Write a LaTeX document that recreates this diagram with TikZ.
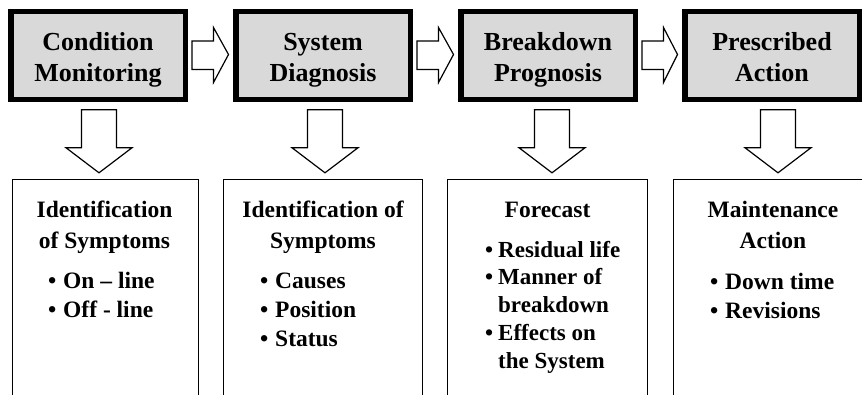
\documentclass[tikz,border=0pt]{standalone}
\usepackage{fontspec}
\setmainfont{Liberation Serif}
\usetikzlibrary{calc}
\definecolor{stagegray}{RGB}{217,217,217}
% bullet with a fixed-width column so wrapped lines hang under the text
\newcommand\bul[1][15pt]{\makebox[#1][l]{\textbullet}}
\newcommand\hang[1][15pt]{\hspace*{#1}}

\begin{document}
\begin{tikzpicture}[x=1pt,y=-1pt,
  stagebox/.style={draw=black, line width=5.5pt, fill=stagegray,
    minimum width=174.5pt, minimum height=88pt, inner sep=0pt},
  stagetext/.style={anchor=base, inner sep=0pt,
    font=\fontsize{26}{31.5}\selectfont\bfseries},
  panel/.style={inner sep=0pt, minimum height=240pt},
  panelline/.style={draw=black, line width=1.5pt},
  blockarrow/.style={draw=black, line width=1.2pt, fill=white, line join=miter},
  heading/.style={anchor=base, inner sep=0pt,
    font=\fontsize{23.5}{31}\selectfont\bfseries},
  items/.style={anchor=base west, inner sep=0pt,
    font=\fontsize{23.5}{29}\selectfont\bfseries},
  itemstight/.style={items, font=\fontsize{23}{27.8}\selectfont\bfseries}
]
\useasboundingbox (0,0) rectangle (862,394);

% ---- stage boxes ----
\node[stagebox] (b1) at (98,55.5) {};
\node[stagebox] (b2) at (323,55.5) {};
\node[stagebox] (b3) at (548,55.5) {};
\node[stagebox] (b4) at (772,55.5) {};

\node[stagetext] (b1t) at ($(b1.center)+(0,-5.5)$)
  {\begin{tabular}[t]{@{}c@{}}Condition\\Monitoring\end{tabular}};
\node[stagetext] (b2t) at ($(b2.center)+(0,-5.5)$)
  {\begin{tabular}[t]{@{}c@{}}System\\Diagnosis\end{tabular}};
\node[stagetext] (b3t) at ($(b3.center)+(0,-5.5)$)
  {\begin{tabular}[t]{@{}c@{}}Breakdown\\Prognosis\end{tabular}};
\node[stagetext] (b4t) at ($(b4.center)+(0,-5.5)$)
  {\begin{tabular}[t]{@{}c@{}}Prescribed\\Action\end{tabular}};

% ---- block arrows between stages ----
\foreach \a/\b in {b1/b2, b2/b3, b3/b4}{
  \draw[blockarrow]
    ($(\a.east)+(4,-14.5)$) -- ($(\a.east)+(25.5,-14.5)$)
    -- ($(\a.east)+(25.5,-28)$) -- ($(\b.west)+(-4.5,-1)$)
    -- ($(\a.east)+(25.5,27)$) -- ($(\a.east)+(25.5,14)$)
    -- ($(\a.east)+(4,14)$) -- cycle;
}

% ---- result panels (open at the bottom) ----
\node[panel, minimum width=186pt] (p1) at (105.5,299.5) {};
\node[panel, minimum width=199pt] (p2) at (323,299.5) {};
\node[panel, minimum width=200pt] (p3) at (547.5,299.5) {};
\node[panel, minimum width=200pt] (p4) at (773.5,299.5) {};
\foreach \p in {p1,p2,p3,p4}{
  \draw[panelline] (\p.south west) -- (\p.north west) -- (\p.north east) -- (\p.south east);
}

% ---- block arrows from stages down to panels ----
\foreach \s/\p/\dx in {b1/p1/1, b2/p2/2, b3/p3/4, b4/p4/6}{
  \coordinate (tipx) at ($(\s.south)+(\dx,0)$);
  \coordinate (tipy) at ($(\p.north)+(0,-6.5)$);
  \draw[blockarrow]
    ($(\s.south)+(\dx-17.5,7.5)$) -- ($(\s.south)+(\dx+17.5,7.5)$)
    -- ($(\s.south)+(\dx+17.5,45.5)$) -- ($(\s.south)+(\dx+33,45.5)$)
    -- (tipx |- tipy)
    -- ($(\s.south)+(\dx-33,45.5)$) -- ($(\s.south)+(\dx-17.5,45.5)$) -- cycle;
}

% ---- panel texts ----
\node[heading] (h1) at (104.5,217)
  {\begin{tabular}[t]{@{}c@{}}Identification\\of Symptoms\end{tabular}};
\node[items] (i1) at (48,288)
  {\begin{tabular}[t]{@{}l@{}}\bul On -- line\\\bul Off - line\end{tabular}};

\node[heading] (h2) at (323,217)
  {\begin{tabular}[t]{@{}c@{}}Identification of\\Symptoms\end{tabular}};
\node[items] (i2) at (260,288)
  {\begin{tabular}[t]{@{}l@{}}\bul Causes\\\bul Position\\\bul Status\end{tabular}};

\node[heading] (h3) at (547.5,217) {Forecast};
\node[itemstight] (i3) at (485,257)
  {\begin{tabular}[t]{@{}l@{}}\bul[13pt]Residual life\\\bul[13pt]Manner of\\\hang[13pt]breakdown\\
   \bul[13pt]Effects on\\\hang[13pt]the System\end{tabular}};

\node[heading] (h4) at (773,217)
  {\begin{tabular}[t]{@{}c@{}}Maintenance\\Action\end{tabular}};
\node[items] (i4) at (710,289)
  {\begin{tabular}[t]{@{}l@{}}\bul Down time\\\bul Revisions\end{tabular}};
\end{tikzpicture}
\end{document}
